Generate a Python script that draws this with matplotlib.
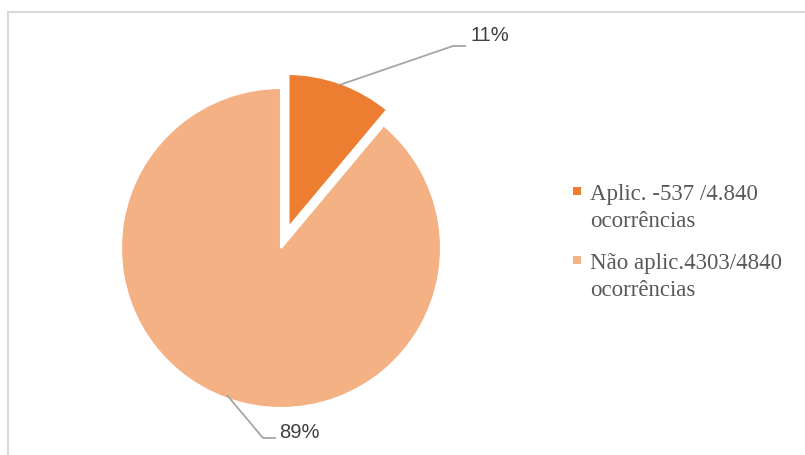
import matplotlib.pyplot as plt
import matplotlib.patches as patches
import numpy as np

# data
values = [537, 4303]
pct_labels = ['11%', '89%']
legend_labels = ['Aplic. -537 /4.840\nocorrências', 'Não aplic.4303/4840\nocorrências']
colors = ['#ED7D31', '#F4B183']

W, H = 805, 456
fig = plt.figure(figsize=(W / 100, H / 100), dpi=100)
# axes in pixel units (y up)
ax = fig.add_axes([0, 0, 1, 1])
ax.set_xlim(0, W)
ax.set_ylim(0, H)
ax.set_aspect('equal')
ax.axis('off')

# light grey frame around the chart area
frame = patches.Rectangle((8, -10), W, H - 13 + 10, fill=False,
                          edgecolor='#D9D9D9', linewidth=1.5)
ax.add_patch(frame)

cx, cy, r = 281, H - 249, 160
# explode is in data units here (pixels)
wedges, _ = ax.pie(values, colors=colors, startangle=90, counterclock=False,
                   explode=[0.105 * r, 0], center=(cx, cy), radius=r,
                   wedgeprops=dict(edgecolor='white', linewidth=1.5),
                   frame=True)
wedges[0].set_linewidth(4)
ax.set_xlim(0, W)
ax.set_ylim(0, H)
ax.axis('off')

# percentage labels with leader lines
text_pos = [(470, H - 35), (279, H - 433)]
elbow = [(453, H - 47), (263, H - 439)]
end = [(465, H - 47), (275, H - 439)]
for w, lab, tp, el, en in zip(wedges, pct_labels, text_pos, elbow, end):
    mid = np.deg2rad((w.theta1 + w.theta2) / 2)
    x0 = w.center[0] + (w.r - 3) * np.cos(mid)
    y0 = w.center[1] + (w.r - 3) * np.sin(mid)
    ax.plot([x0, el[0], en[0]], [y0, el[1], en[1]], color='#A6A6A6', lw=1.3)
    ax.text(tp[0], tp[1], lab, fontsize=14.5, color='#404040',
            family='Liberation Sans', ha='left', va='center')

# legend (y = baseline of first line)
leg_y = [H - 200, H - 269]
for c, lab, y in zip(colors, legend_labels, leg_y):
    ax.add_patch(patches.Rectangle((573, y + 4), 8, 8, color=c, lw=0))
    ax.text(590, y - 27, lab, fontsize=16.5, color='#595959',
            family='Liberation Serif', ha='left', va='baseline',
            linespacing=1.4)

plt.savefig('out.png', dpi=100)
